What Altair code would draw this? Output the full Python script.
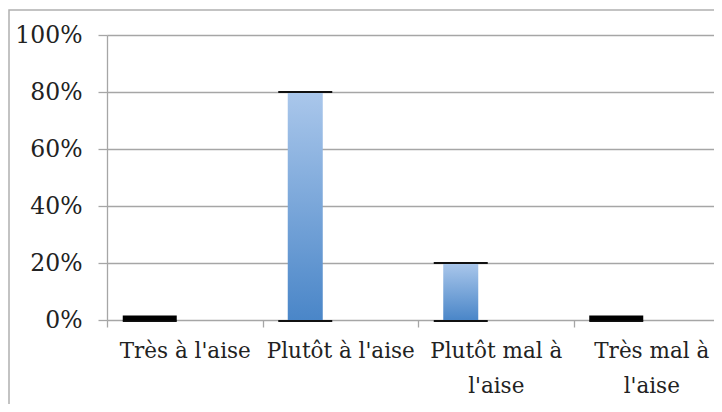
import json
import altair as alt
import pandas as pd

categories = ["Très à l'aise", "Plutôt à l'aise", "Plutôt mal à l'aise", "Très mal à l'aise"]
values = [0, 80, 20, 0]
y_ticks = [0, 20, 40, 60, 80, 100]

df = pd.DataFrame({"cat": categories, "val": values})

FONT = "DejaVu Serif"
GRID = "#a6a6a6"

# wrap the long labels onto two lines (before the last word)
split_expr = "datum.label"
for c in categories:
    if " mal " in c:
        parts = c.rsplit(" ", 1)
        split_expr = f"datum.label == {json.dumps(c)} ? {json.dumps(parts)} : ({split_expr})"

x_enc = alt.X(
    "cat:N", sort=categories,
    scale=alt.Scale(range=[0, 622], paddingInner=0, paddingOuter=0),
    axis=alt.Axis(title=None, labelAngle=0, tickBand="extent", domain=False, grid=False,
                  tickSize=7, tickColor=GRID, tickWidth=1.3,
                  labelFont=FONT, labelFontSize=21.5, labelColor="#222222",
                  labelPadding=13, labelLineHeight=35, labelLimit=400,
                  labelBaseline="top", labelExpr=split_expr),
)
y_enc = alt.Y(
    "val:Q",
    scale=alt.Scale(domain=[0, 100], nice=False),
    axis=alt.Axis(values=y_ticks, title=None, labelExpr="datum.value + '%'",
                  grid=True, gridColor=GRID, gridWidth=1.3,
                  domainColor=GRID, domainWidth=1.3,
                  tickColor=GRID, tickSize=9, tickWidth=1.3,
                  labelPadding=16, labelFont=FONT, labelFontSize=23.5, labelColor="#222222"),
)

base = alt.Chart(df)

grad = alt.Gradient(
    gradient="linear",
    stops=[alt.GradientStop(color="#aac7eb", offset=0),
           alt.GradientStop(color="#4a86c8", offset=1)],
    x1=0, x2=0, y1=0, y2=1,
)

bars = base.mark_bar(size=35, xOffset=-35, color=grad).encode(x=x_enc, y=y_enc)

top_edge = base.transform_filter("datum.val > 0").mark_tick(
    size=54, thickness=2, xOffset=-35, color="#111111", opacity=1
).encode(x=alt.X("cat:N", sort=categories), y="val:Q")

bottom_edge = base.mark_tick(
    size=54, thickness=2, xOffset=-35, yOffset=1, color="#111111", opacity=1
).encode(x=alt.X("cat:N", sort=categories), y=alt.datum(0))

zero_edge = base.transform_filter("datum.val == 0").mark_tick(
    size=54, thickness=5, xOffset=-35, yOffset=-2, color="#000000", opacity=1
).encode(x=alt.X("cat:N", sort=categories), y="val:Q")

border = alt.Chart(pd.DataFrame({"a": [0]})).mark_rect(
    fillOpacity=0, stroke="#b0b0b0", strokeWidth=1.5
).encode(x=alt.value(-98), x2=alt.value(720), y=alt.value(-25), y2=alt.value(500))

chart = alt.layer(border, bars, top_edge, bottom_edge, zero_edge).properties(
    width=607, height=285,
    autosize=alt.AutoSizeParams(type="none"),
    padding={"left": 99, "top": 27, "right": 0, "bottom": 84},
).configure_view(strokeWidth=0)

chart.save("out.html", embed_options={"renderer": "svg", "actions": False})
